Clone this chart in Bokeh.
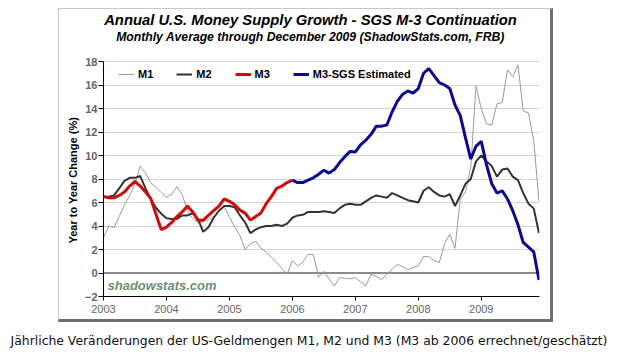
import pandas as pd
from bokeh.plotting import figure
from bokeh.layouts import column
from bokeh.models import (Range1d, FixedTicker, Legend, LegendItem, Label,
                          Span, Div, Title)
from bokeh.embed import file_html
from bokeh.resources import INLINE

# ---------------- data (monthly, Jan 2003 - Dec 2009) ----------------
months = pd.date_range("2003-01-01", "2009-12-01", freq="MS")

m1 = [3.0, 4.0, 3.85, 4.8, 5.8, 6.6, 7.6, 9.1, 8.5, 7.7, 7.3, 6.85,
      6.45, 6.7, 7.35, 6.65, 5.3, 4.65, 4.25, 4.4, 4.55, 4.8, 5.3, 5.6,
      4.8, 3.9, 3.2, 2.0, 2.5, 2.7, 2.1, 1.8, 1.3, 0.9, 0.4, -0.1,
      1.05, 0.6, 0.9, 1.6, 1.55, -0.35, 0.15, -0.5, -1.1, -0.4, -0.45, -0.5,
      -0.4, -0.75, -1.1, -0.1, -0.3, -0.55, -0.1, 0.3, 0.75, 0.55, 0.25, 0.5,
      0.6, 1.4, 1.4, 1.05, 0.9, 2.5, 3.3, 2.1, 6.3, 6.9, 9.0, 15.9,
      14.0, 12.7, 12.6, 14.4, 14.5, 17.3, 16.7, 17.7, 13.8, 13.6, 11.3, 6.1]

m2 = [6.5, 6.5, 6.6, 7.2, 7.85, 8.1, 8.1, 8.25, 7.2, 6.3, 5.55, 5.05,
      4.65, 4.6, 4.6, 4.9, 4.9, 5.1, 4.6, 3.5, 3.9, 4.7, 5.3, 5.7,
      5.7, 5.6, 4.9, 4.3, 3.4, 3.7, 3.9, 4.0, 4.0, 4.1, 4.0, 4.2,
      4.7, 4.9, 4.95, 5.2, 5.2, 5.2, 5.25, 5.2, 5.1, 5.5, 5.8, 5.9,
      5.8, 5.8, 6.1, 6.4, 6.6, 6.5, 6.4, 6.8, 6.6, 6.4, 6.2, 6.1,
      6.0, 7.0, 7.3, 6.9, 6.6, 6.5, 6.7, 5.7, 6.6, 7.6, 8.0, 9.5,
      10.0, 9.5, 9.1, 8.2, 8.8, 8.9, 8.2, 7.9, 6.8, 5.9, 5.5, 3.4]

# official M3: Jan 2003 - Jan 2006
m3 = [6.5, 6.4, 6.4, 6.6, 6.9, 7.4, 7.8, 7.4, 6.9, 6.35, 5.0, 3.7,
      3.9, 4.3, 4.8, 5.2, 5.7, 5.2, 4.5, 4.5, 4.9, 5.3, 5.7, 6.3,
      6.1, 5.8, 5.35, 5.1, 4.5, 4.8, 5.1, 5.9, 6.5, 7.2, 7.4, 7.7, 7.9]

# SGS estimate: Jan 2006 - Dec 2009
m3_sgs = [7.9, 7.7, 7.7, 7.9, 8.1, 8.4, 8.75, 8.5, 8.8, 9.4, 9.9, 10.35,
          10.3, 10.9, 11.3, 11.8, 12.5, 12.5, 12.6, 13.7, 14.6, 15.2, 15.5, 15.3,
          15.7, 17.0, 17.4, 16.8, 16.2, 16.0, 15.7, 14.3, 13.4, 11.5, 9.7, 10.8,
          11.2, 9.2, 7.6, 6.8, 7.0, 6.3, 5.3, 4.1, 2.6, 2.2, 1.8, -0.6]

year_ticks = [2003, 2004, 2005, 2006, 2007, 2008, 2009]
value_ticks = [-2, 0, 2, 4, 6, 8, 10, 12, 14, 16, 18]

series_names = ["M1", "M2", "M3", "M3-SGS Estimated"]

title_text = "Annual U.S. Money Supply Growth - SGS M-3 Continuation"
subtitle_text = "Monthly Average through December 2009 (ShadowStats.com, FRB)"
caption_text = ("Jährliche Veränderungen der US-Geldmengen M1, M2 und M3 "
                "(M3 ab 2006 errechnet/geschätzt)")
watermark_text = "shadowstats.com"
ylabel_text = "Year to Year Change (%)"

# decimal-year position of every month
t = list(months.year + (months.month - 1) / 12.0)
t_m3 = t[:len(m3)]
t_sgs = t[len(t) - len(m3_sgs):]

# ---------------- layout geometry (page pixels) ----------------
CX, CY = 59, 9            # page position of the canvas (inside the box border)
PLOT_L, PLOT_R = 103, 539  # x of 2003 / end of axis
PLOT_T, PLOT_B = 61, 296   # y of value 18 / value -2
W = 495
H = 314
ML = PLOT_L - CX
MR = W - ML - (PLOT_R - PLOT_L)
MB = CY + H - PLOT_B
X0, X1 = 2003.0, 2009.925
Y0 = -2.0
PX_PER_UNIT = (PLOT_B - PLOT_T) / 20.0
Y1 = Y0 + (PLOT_B - CY) / PX_PER_UNIT   # frame reaches the top of the box


def gx(px):
    return X0 + (px - PLOT_L) * (X1 - X0) / (PLOT_R - PLOT_L)


def gy(py):
    return Y0 + (PLOT_B - py) / PX_PER_UNIT


p = figure(width=W, height=H, x_range=Range1d(X0, X1), y_range=Range1d(Y0, Y1),
           output_backend="svg", toolbar_location=None, title=None,
           min_border_left=ML, min_border_right=MR,
           min_border_top=0, min_border_bottom=MB,
           background_fill_color="white", border_fill_color="white",
           outline_line_color=None, margin=(8, 0, 0, 58),
           styles={"border-left": "1px solid #c8c8c8",
                   "border-top": "1px solid #c8c8c8",
                   "border-right": "3px solid #707070",
                   "border-bottom": "3px solid #707070"})

# grid
p.xgrid.visible = False
p.ygrid.grid_line_color = "#d4d4d4"
p.ygrid.grid_line_width = 1
p.ygrid.ticker = FixedTicker(ticks=value_ticks)

# axes
p.xaxis.ticker = FixedTicker(ticks=year_ticks)
p.yaxis.ticker = FixedTicker(ticks=value_ticks)
p.yaxis.bounds = (value_ticks[0], value_ticks[-1])
for ax in (p.xaxis[0], p.yaxis[0]):
    ax.axis_line_color = "black"
    ax.axis_line_width = 1
    ax.major_tick_line_color = "black"
    ax.major_tick_in = 0
    ax.minor_tick_line_color = None
    ax.major_label_text_font = "Liberation Sans"
    ax.major_label_text_color = "#666666"
p.xaxis.major_tick_out = 4
p.xaxis.major_label_standoff = 4
p.xaxis.major_label_text_font_size = "11px"
p.yaxis.major_tick_out = 5
p.yaxis.major_label_standoff = 1
p.yaxis.major_label_text_font_size = "11px"
p.yaxis.major_label_text_font_style = "bold"

# y-axis title, centred on the -2..18 span of the axis
p.add_layout(Title(text=ylabel_text, align="left", offset=53, standoff=5,
                   text_font="Liberation Sans", text_font_size="11px",
                   text_font_style="bold", text_color="black"), "left")

# zero line
p.add_layout(Span(location=0, dimension="width", line_color="#8c8c8c",
                  line_width=2, level="underlay"))

# series
r1 = p.line(t, m1, line_color="#9a9a9a", line_width=1)
r2 = p.line(t, m2, line_color="#333333", line_width=2)
r3 = p.line(t_m3, m3, line_color="#d10a0a", line_width=3)
r4 = p.line(t_sgs, m3_sgs, line_color="#0a0a8f", line_width=3)

legend = Legend(items=[LegendItem(label=n, renderers=[r])
                       for n, r in zip(series_names, [r1, r2, r3, r4])],
                orientation="horizontal", location=(15, 215),
                padding=0, margin=0, spacing=23,
                glyph_width=16, glyph_height=14, label_height=14,
                label_width=10, label_standoff=4,
                label_text_font="Liberation Sans", label_text_font_size="11px",
                label_text_font_style="bold", label_text_color="black",
                background_fill_alpha=0, border_line_alpha=0)
p.add_layout(legend)

# titles and watermark
p.add_layout(Label(x=gx(310), y=gy(19), text=title_text, text_align="center",
                   text_baseline="middle", text_font="Liberation Sans",
                   text_font_size="14.8px", text_font_style="bold italic",
                   text_color="black"))
p.add_layout(Label(x=gx(310), y=gy(36), text=subtitle_text, text_align="center",
                   text_baseline="middle", text_font="Liberation Sans",
                   text_font_size="12.2px", text_font_style="bold italic",
                   text_color="black"))
p.add_layout(Label(x=gx(107), y=gy(285), text=watermark_text, text_align="left",
                   text_baseline="middle", text_font="Liberation Sans",
                   text_font_size="13px", text_font_style="bold italic",
                   text_color="#6f8f6f"))

caption = Div(text=caption_text, width=618, margin=(10, 0, 0, 0),
              styles={"font-family": "DejaVu Sans", "font-size": "12.4px",
                      "text-align": "center", "color": "#111111",
                      "white-space": "nowrap"})

layout = column(p, caption, margin=0)

open("out.html", "w").write(file_html(layout, INLINE))
